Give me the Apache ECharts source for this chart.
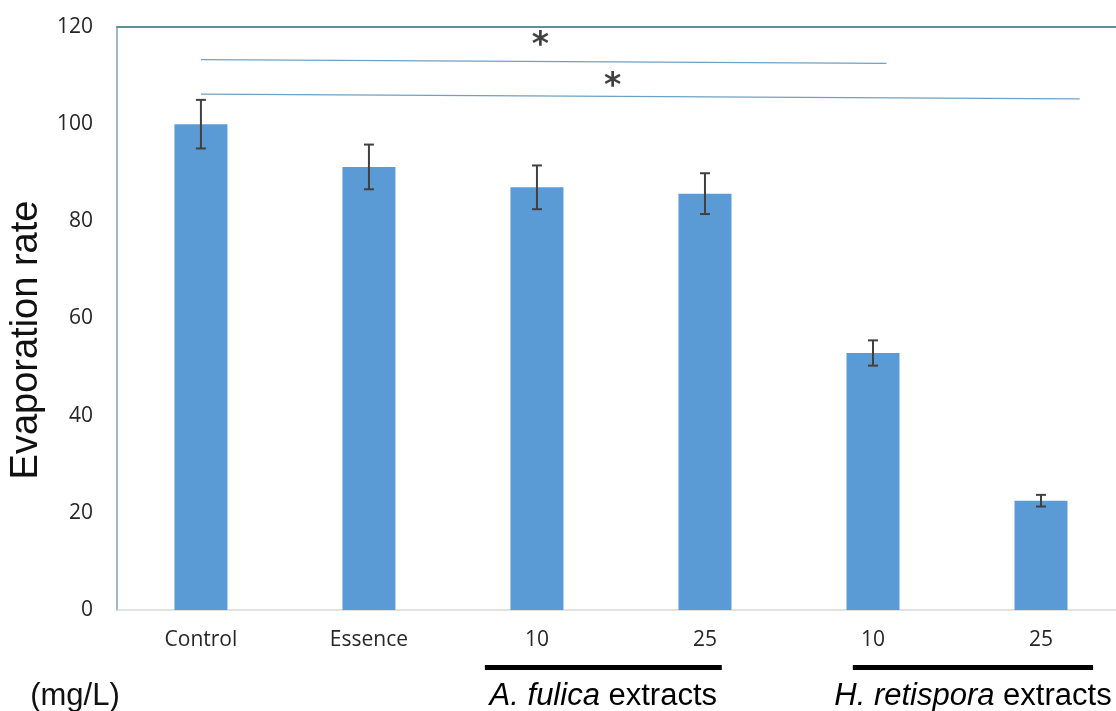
<!DOCTYPE html>
<html>
<head>
<meta charset="utf-8">
<script src="https://cdn.jsdelivr.net/npm/echarts@6/dist/echarts.min.js"></script>
<style>
  html, body { margin: 0; padding: 0; background: #ffffff; overflow: hidden; width: 1116px; height: 711px; }
  /* plot frame runs past the right edge of the page */
  #chart { width: 1125px; height: 711px; }
</style>
</head>
<body>
<div id="chart"></div>
<script>
// Evaporation rate by treatment
const categories = ['Control', 'Essence', '10', '25', '10', '25'];
const rates = [100, 91.2, 87.0, 85.7, 52.9, 22.5];
const errors = [5.0, 4.6, 4.5, 4.2, 2.6, 1.2];
const yMin = 0, yMax = 120, yStep = 20;

// Significance brackets (x in category units, y in rate units)
const sigLine1 = [[0, 113.3], [4.08, 112.5]];
const sigLine2 = [[0, 106.2], [5.23, 105.2]];
const sigStars = [[2.02, 117.4], [2.45, 109.1]];

// Extract groups underneath the concentration labels
const groups = [
  { text: '{i|A. fulica} extracts', from: 1.69, to: 3.10 },
  { text: '{i|H. retispora} extracts', from: 3.88, to: 5.31 }
];
const unitLabel = '(mg/L)';

const errData = rates.map((v, i) => [i, v - errors[i], v + errors[i]]);

const chart = echarts.init(document.getElementById('chart'), null, { renderer: 'canvas' });

const STAR_SIZE = 33;

chart.setOption({
  animation: false,
  backgroundColor: '#ffffff',
  grid: { left: 116, top: 27, right: 0, bottom: 101 },
  xAxis: [
    {
      type: 'category',
      data: categories,
      position: 'bottom',
      axisLine: { lineStyle: { color: '#d9d9d9', width: 1.5 } },
      axisTick: { show: false },
      axisLabel: { color: '#262626', fontFamily: 'Open Sans', fontSize: 21, margin: 20 }
    },
    {
      type: 'value',
      min: -0.5,
      max: 5.5,
      position: 'top',
      axisLine: { show: true, onZero: false, lineStyle: { color: '#5b8f99', width: 2 } },
      axisTick: { show: false },
      axisLabel: { show: false },
      splitLine: { show: false }
    }
  ],
  yAxis: {
    type: 'value',
    min: yMin,
    max: yMax,
    interval: yStep,
    name: 'Evaporation rate',
    nameLocation: 'middle',
    nameGap: 65,
    nameTextStyle: {
      color: '#111111',
      fontFamily: 'Liberation Sans',
      fontSize: 38,
      padding: [0, 43, 0, 0]
    },
    axisLine: { show: true, onZero: false, lineStyle: { color: '#7fa0b5', width: 1.5 } },
    axisTick: { show: false },
    splitLine: { show: false },
    axisLabel: { color: '#262626', fontFamily: 'Open Sans', fontSize: 21, margin: 24 }
  },
  series: [
    {
      type: 'bar',
      data: rates,
      barWidth: 53,
      itemStyle: { color: '#5b9bd5' },
      xAxisIndex: 0
    },
    {
      type: 'custom',
      xAxisIndex: 0,
      data: errData,
      z: 10,
      renderItem: function (params, api) {
        const x = api.value(0);
        const lo = api.coord([x, api.value(1)]);
        const hi = api.coord([x, api.value(2)]);
        const cap = 5;
        const style = { stroke: '#404040', lineWidth: 2 };
        return {
          type: 'group',
          children: [
            { type: 'line', shape: { x1: lo[0], y1: lo[1], x2: hi[0], y2: hi[1] }, style: style },
            { type: 'line', shape: { x1: hi[0] - cap, y1: hi[1], x2: hi[0] + cap, y2: hi[1] }, style: style },
            { type: 'line', shape: { x1: lo[0] - cap, y1: lo[1], x2: lo[0] + cap, y2: lo[1] }, style: style }
          ]
        };
      }
    },
    {
      type: 'line',
      xAxisIndex: 1,
      data: sigLine1,
      symbol: 'none',
      lineStyle: { color: '#6fa0c4', width: 1.3 }
    },
    {
      type: 'line',
      xAxisIndex: 1,
      data: sigLine2,
      symbol: 'none',
      lineStyle: { color: '#6fa0c4', width: 1.3 }
    },
    {
      type: 'scatter',
      xAxisIndex: 1,
      data: sigStars,
      symbolSize: 0,
      label: {
        show: true,
        position: 'inside',
        formatter: '*',
        color: '#111111',
        fontFamily: 'DejaVu Sans',
        fontWeight: 'bold',
        fontSize: STAR_SIZE,
        offset: [0, Math.round(STAR_SIZE * 0.2)]
      }
    }
  ]
});

// Group underlines and captions, placed through the value axis
const graphics = [];
groups.forEach(g => {
  const x1 = chart.convertToPixel({ xAxisIndex: 1 }, g.from);
  const x2 = chart.convertToPixel({ xAxisIndex: 1 }, g.to);
  graphics.push({
    type: 'rect',
    shape: { x: x1, y: 665, width: x2 - x1, height: 5 },
    style: { fill: '#000000' }
  });
  graphics.push({
    type: 'text',
    x: (x1 + x2) / 2,
    y: 696,
    style: {
      text: g.text,
      align: 'center',
      verticalAlign: 'middle',
      fill: '#000000',
      font: '31px "Liberation Sans"',
      rich: { i: { fontStyle: 'italic', fontSize: 31, fontFamily: 'Liberation Sans', fill: '#000000' } }
    }
  });
});
graphics.push({
  type: 'text',
  x: 75,
  y: 696,
  style: {
    text: unitLabel,
    align: 'center',
    verticalAlign: 'middle',
    fill: '#111111',
    font: '31px "Liberation Sans"'
  }
});
chart.setOption({ graphic: graphics });
</script>
</body>
</html>
